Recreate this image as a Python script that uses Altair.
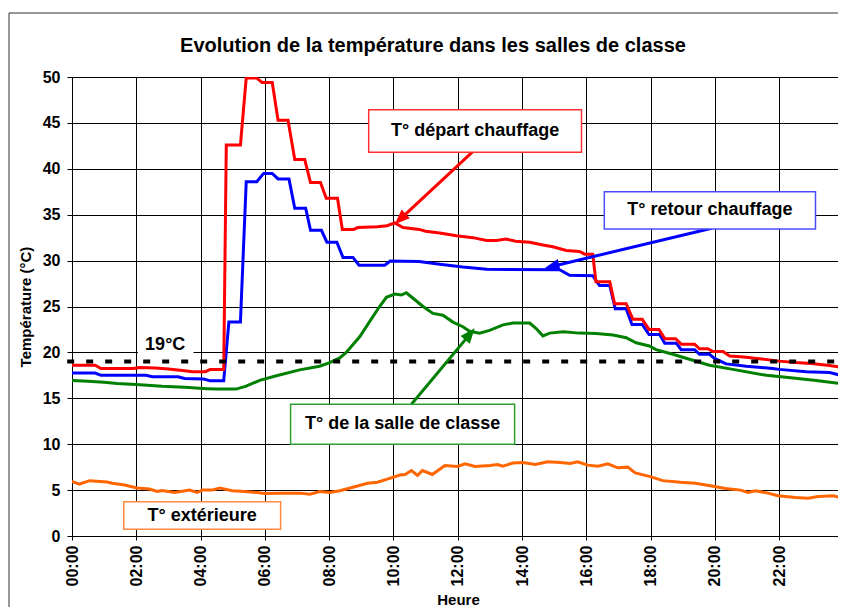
import math
import altair as alt
import pandas as pd

FONT = "Liberation Sans"

# ---------------- data (hours since midnight, °C) ----------------
depart_h = [0, 0.72, 0.9, 1.9, 2.1, 2.6, 3.0, 3.5, 3.75, 4.15, 4.3, 4.72, 4.80, 5.24, 5.42, 5.74, 5.91,
            6.23, 6.41, 6.72, 6.93, 7.24, 7.42, 7.73, 7.91, 8.26, 8.41, 8.76, 8.89, 9.5, 9.8, 10.04,
            10.3, 10.8, 11.0, 11.44, 11.96, 12.47, 12.9, 13.2, 13.5, 13.8, 14.24, 14.65, 14.96, 15.38,
            15.79, 15.95, 16.2, 16.3, 16.73, 16.88, 17.24, 17.45, 17.74, 17.95, 18.26, 18.44, 18.78,
            18.95, 19.37, 19.52, 19.78, 19.94, 20.25, 20.46, 20.9, 21.39, 22.0, 22.5, 23.0, 23.5, 23.93]
depart_v = [18.6, 18.6, 18.25, 18.25, 18.35, 18.3, 18.2, 18.0, 17.9, 17.9, 18.15, 18.15, 42.6, 42.6,
            49.9, 49.9, 49.4, 49.4, 45.3, 45.3, 41.0, 41.0, 38.5, 38.5, 36.8, 36.8, 33.4, 33.4, 33.6,
            33.7, 33.8, 34.1, 33.6, 33.4, 33.2, 33.0, 32.7, 32.5, 32.2, 32.2, 32.35, 32.1, 32.0, 31.7,
            31.5, 31.1, 31.0, 30.7, 30.7, 27.7, 27.7, 25.3, 25.3, 23.6, 23.6, 22.5, 22.5, 21.5, 21.5,
            20.9, 20.9, 20.4, 20.4, 20.1, 20.1, 19.6, 19.5, 19.3, 19.05, 18.9, 18.8, 18.6, 18.4]

retour_h = [0, 0.72, 0.9, 2.3, 2.5, 3.3, 3.5, 4.1, 4.3, 4.72, 4.88, 5.24, 5.42, 5.75, 5.96, 6.23, 6.41,
            6.75, 6.93, 7.27, 7.42, 7.76, 7.93, 8.24, 8.43, 8.74, 8.93, 9.73, 9.9, 10.8, 11.44, 12.16,
            12.9, 15.17, 15.48, 16.2, 16.41, 16.73, 16.9, 17.24, 17.42, 17.74, 17.95, 18.28, 18.44,
            18.8, 18.95, 19.37, 19.52, 19.83, 19.99, 20.35, 20.98, 21.8, 22.0, 22.84, 23.57, 23.93]
retour_v = [17.75, 17.75, 17.5, 17.5, 17.35, 17.35, 17.15, 17.1, 16.9, 16.9, 23.3, 23.3, 38.6, 38.6,
            39.5, 39.5, 38.9, 38.9, 35.7, 35.7, 33.3, 33.3, 32.0, 32.0, 30.35, 30.35, 29.5, 29.5, 29.95,
            29.9, 29.6, 29.3, 29.05, 29.0, 28.4, 28.35, 27.3, 27.3, 24.75, 24.75, 23.05, 23.05, 21.95,
            21.95, 21.0, 21.0, 20.3, 20.3, 19.8, 19.8, 19.35, 18.75, 18.5, 18.25, 18.15, 17.9, 17.8, 17.5]

salle_h = [0, 0.5, 1.0, 1.4, 2.0, 2.8, 3.5, 4.2, 4.5, 5.1, 5.4, 5.84, 6.36, 7.08, 7.7, 8.0, 8.33, 8.53,
           8.95, 9.36, 9.57, 9.78, 10.04, 10.25, 10.4, 10.61, 10.92, 11.23, 11.54, 11.85, 12.16, 12.37,
           12.68, 12.99, 13.41, 13.72, 14.24, 14.44, 14.65, 14.86, 15.28, 15.79, 16.31, 16.83, 17.24,
           17.55, 17.96, 18.17, 18.69, 19.31, 19.83, 20.56, 21.6, 22.43, 23.15, 23.93]
salle_v = [16.95, 16.85, 16.75, 16.6, 16.5, 16.3, 16.2, 16.05, 16.0, 16.0, 16.3, 16.95, 17.45, 18.1,
           18.5, 18.85, 19.4, 20.0, 21.7, 23.9, 25.0, 26.0, 26.35, 26.25, 26.5, 25.9, 25.0, 24.25, 24.05,
           23.3, 22.8, 22.3, 22.1, 22.4, 23.0, 23.2, 23.2, 22.6, 21.8, 22.1, 22.25, 22.1, 22.07, 21.9,
           21.6, 21.05, 20.7, 20.3, 19.8, 19.15, 18.6, 18.15, 17.5, 17.2, 16.95, 16.6]

ext_h = [0, 0.23, 0.55, 1.09, 1.25, 1.64, 2.02, 2.41, 2.65, 2.8, 3.19, 3.66, 3.89, 4.05, 4.36, 4.6,
         4.98, 5.37, 5.76, 6.0, 6.46, 7.09, 7.4, 7.71, 8.02, 8.33, 8.8, 9.19, 9.5, 9.81, 10.2, 10.36,
         10.56, 10.75, 10.9, 11.21, 11.6, 11.99, 12.23, 12.54, 13.0, 13.24, 13.4, 13.71, 14.02, 14.41,
         14.8, 15.19, 15.5, 15.73, 16.04, 16.36, 16.67, 16.98, 17.29, 17.52, 17.99, 18.38, 18.93,
         19.39, 19.86, 20.33, 20.8, 21.03, 21.26, 21.65, 21.96, 22.51, 22.9, 23.21, 23.68, 23.91]
ext_v = [5.96, 5.66, 6.03, 5.88, 5.74, 5.55, 5.22, 5.11, 4.85, 4.96, 4.74, 5.0, 4.74, 5.0, 5.0, 5.22,
         4.93, 4.85, 4.74, 4.63, 4.67, 4.67, 4.56, 4.85, 4.74, 4.93, 5.37, 5.74, 5.85, 6.2, 6.65, 6.7,
         7.13, 6.6, 7.13, 6.7, 7.68, 7.57, 7.87, 7.57, 7.68, 7.79, 7.6, 7.94, 8.0, 7.79, 8.09, 8.0,
         7.9, 8.09, 7.72, 7.61, 7.87, 7.43, 7.5, 6.88, 6.47, 6.03, 5.85, 5.74, 5.48, 5.18, 5.0, 4.74,
         4.93, 4.67, 4.38, 4.19, 4.12, 4.3, 4.38, 4.19]

series_names = ["T° extérieure", "T° salle", "T° retour", "T° départ"]
series_colors = ["#FF6600", "#008000", "#0000FF", "#FF0000"]

x_ticks = [0, 2, 4, 6, 8, 10, 12, 14, 16, 18, 20, 22]
y_ticks = [0, 5, 10, 15, 20, 25, 30, 35, 40, 45, 50]
consigne = 19

# annotation boxes (hours / °C)
box_text = ["T° départ chauffage", "T° retour chauffage", "T° de la salle de classe", "T° extérieure"]
box_x1 = [9.23, 16.56, 6.80, 1.61]
box_x2 = [15.85, 23.13, 13.77, 6.49]
box_y1 = [41.8, 33.45, 10.0, 0.73]
box_y2 = [46.42, 37.5, 14.36, 3.72]
box_stroke = ["#FF3030", "#4C4CFF", "#2E9E2E", "#FF8A3D"]

# arrows: start (box edge) -> tip (on the curve)
arr_h0 = [12.46, 19.90, 10.56]
arr_v0 = [41.84, 33.53, 14.36]
arr_h1 = [10.04, 14.70, 12.53]
arr_v1 = [33.97, 29.17, 22.62]
arr_color = ["#FF0000", "#0000FF", "#008000"]

W, H = 766, 459
XMAX = 23.83
KX, KY = W / XMAX, H / 50.0
HEAD = 15.0

# ---------------- tables ----------------
rows = []
for name, hs, vs in [("T° extérieure", ext_h, ext_v), ("T° salle", salle_h, salle_v),
                     ("T° retour", retour_h, retour_v), ("T° départ", depart_h, depart_v)]:
    for i, (h, v) in enumerate(zip(hs, vs)):
        rows.append({"serie": name, "h": h, "v": v, "i": i})
lines_df = pd.DataFrame(rows)

arrows = []
for h0, v0, h1, v1, c in zip(arr_h0, arr_v0, arr_h1, arr_v1, arr_color):
    dx = (h1 - h0) * KX
    dy = -(v1 - v0) * KY
    L = math.hypot(dx, dy)
    ux, uy = dx / L, dy / L
    ang = math.degrees(math.atan2(ux, -uy)) % 360
    hc = h1 - (HEAD / 2) * ux / KX
    vc = v1 + (HEAD / 2) * uy / KY
    arrows.append({"h0": h0, "v0": v0, "hc": hc, "vc": vc, "ang": ang, "c": c})
arr_df = pd.DataFrame(arrows)

box_df = pd.DataFrame({"t": box_text, "x1": box_x1, "x2": box_x2, "y1": box_y1, "y2": box_y2,
                       "c": box_stroke,
                       "xm": [(a + b) / 2 for a, b in zip(box_x1, box_x2)],
                       "ym": [(a + b) / 2 for a, b in zip(box_y1, box_y2)]})

label_df = pd.DataFrame({"t": ["19°C"], "x1": [2.05], "x2": [3.78], "y1": [19.65], "y2": [22.1],
                         "xm": [2.9], "ym": [20.85]})
rule_df = pd.DataFrame({"x1": [-0.15], "x2": [XMAX], "y": [consigne]})
dummy = pd.DataFrame({"k": [0]})

# ---------------- chart ----------------
xscale = alt.Scale(domain=[0, XMAX], nice=False, zero=False)
yscale = alt.Scale(domain=[0, 50], nice=False, zero=False)

x_axis = alt.Axis(values=x_ticks, labelExpr="(datum.value < 10 ? '0' : '') + datum.value + ':00'",
                  labelAngle=270, labelAlign="right", labelBaseline="middle", labelFlush=False,
                  labelOverlap=False, labelFont=FONT, labelFontSize=16, labelFontWeight="bold",
                  labelColor="#000", labelPadding=5, tickSize=4, tickColor="#000",
                  domainColor="#000", grid=True, gridColor="#000", gridWidth=1,
                  title="Heure", titleFont=FONT, titleFontSize=15, titleFontWeight="bold",
                  titleColor="#000", titleX=386, titleY=68, titleAlign="center",
                  titleBaseline="alphabetic")
y_axis = alt.Axis(values=y_ticks, labelFont=FONT, labelFontSize=16, labelFontWeight="bold",
                  labelColor="#000", labelPadding=7, tickSize=5, tickColor="#000",
                  domainColor="#000", grid=True, gridColor="#000", gridWidth=1,
                  title="Température (°C)", titleFont=FONT, titleFontSize=15, titleFontWeight="bold",
                  titleColor="#000", titleX=-47, titleY=H / 2, titleAngle=270, titleAlign="center",
                  titleBaseline="middle")


def X(field):
    return alt.X(field, scale=xscale, axis=x_axis)


def Y(field):
    return alt.Y(field, scale=yscale, axis=y_axis)


lines = alt.Chart(lines_df).mark_line(strokeWidth=3, strokeJoin="miter", clip=True).encode(
    x=X("h:Q"), y=Y("v:Q"),
    color=alt.Color("serie:N", scale=alt.Scale(domain=series_names, range=series_colors), legend=None),
    order=alt.Order("i:Q"),
)

dashed = alt.Chart(rule_df).mark_rule(color="#000", strokeWidth=4, strokeDash=[7, 12]).encode(
    x=X("x1:Q"), x2="x2:Q", y=Y("y:Q"))

lbl_bg = alt.Chart(label_df).mark_rect(fill="white").encode(
    x=X("x1:Q"), x2="x2:Q", y=Y("y1:Q"), y2="y2:Q")
lbl_txt = alt.Chart(label_df).mark_text(font=FONT, fontSize=18, fontWeight="bold", color="#000",
                                        baseline="middle").encode(
    x=X("xm:Q"), y=Y("ym:Q"), text="t:N")

arr_lines = alt.Chart(arr_df).mark_rule(strokeWidth=3).encode(
    x=X("h0:Q"), x2="hc:Q", y=Y("v0:Q"), y2="vc:Q",
    color=alt.Color("c:N", scale=None))
arr_heads = alt.Chart(arr_df).mark_point(shape="M0,-1L0.8,1L-0.8,1Z", filled=True, size=HEAD * HEAD,
                                         opacity=1, strokeWidth=0).encode(
    x=X("hc:Q"), y=Y("vc:Q"),
    angle=alt.Angle("ang:Q", scale=None),
    color=alt.Color("c:N", scale=None))

boxes = alt.Chart(box_df).mark_rect(fill="white", strokeWidth=1.5).encode(
    x=X("x1:Q"), x2="x2:Q", y=Y("y1:Q"), y2="y2:Q",
    stroke=alt.Stroke("c:N", scale=None))
box_txt = alt.Chart(box_df).mark_text(font=FONT, fontSize=18, fontWeight="bold", color="#000",
                                      baseline="middle").encode(
    x=X("xm:Q"), y=Y("ym:Q"), text="t:N")

frame_left = alt.Chart(dummy).mark_rule(color="#333", strokeWidth=1).encode(
    x=alt.value(-63), y=alt.value(-64), y2=alt.value(540))
frame_top = alt.Chart(dummy).mark_rule(color="#333", strokeWidth=1).encode(
    x=alt.value(-63), x2=alt.value(W), y=alt.value(-64))

chart = alt.layer(lines, dashed, lbl_bg, lbl_txt, arr_lines, arr_heads, boxes, box_txt,
                  frame_left, frame_top).properties(
    width=W, height=H,
    title=alt.TitleParams("Evolution de la température dans les salles de classe", font=FONT,
                          fontSize=20, fontWeight="bold", color="#000", anchor="middle",
                          frame="group", dx=-22, offset=-59, baseline="alphabetic"),
    autosize=alt.AutoSizeParams(type="none"),
    padding={"left": 64, "top": 69, "right": 0, "bottom": 71},
).configure_view(stroke="#000", strokeWidth=1).configure(background="white")

chart.save("out.html", embed_options={"renderer": "svg", "actions": False})
